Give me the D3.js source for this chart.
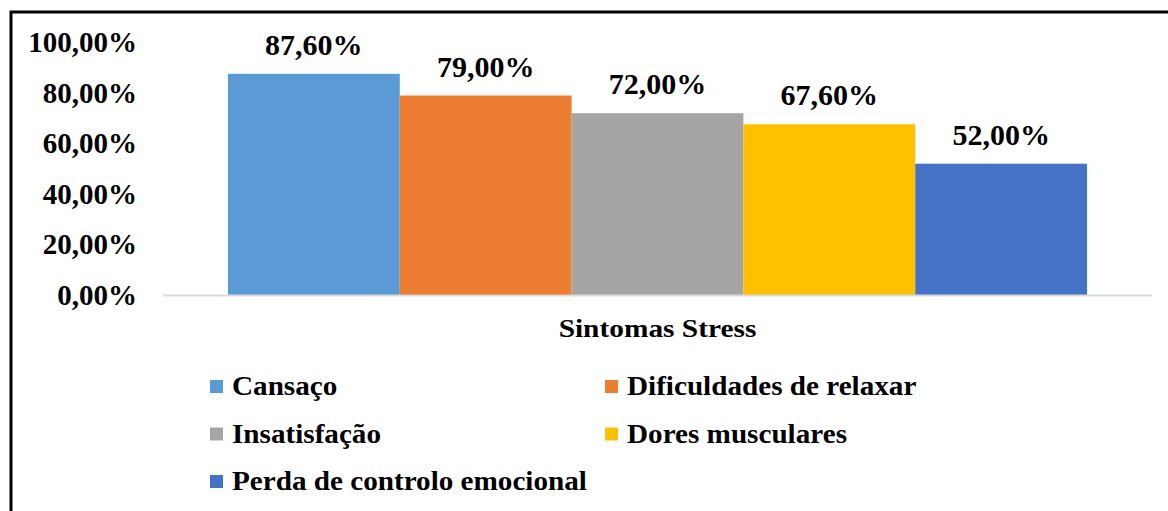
<!DOCTYPE html>
<html>
<head>
<meta charset="utf-8">
<script src="https://cdn.jsdelivr.net/npm/d3@7"></script>
<style>
  body { margin:0; background:#fff; }
</style>
</head>
<body>
<svg id="chart" width="1168" height="511"></svg>
<script>
// data
const categories = ["Cansaço","Dificuldades de relaxar","Insatisfação","Dores musculares","Perda de controlo emocional"]
const values = [87.6, 79.0, 72.0, 67.6, 52.0]
const colors = ["#5B9BD5","#ED7D31","#A5A5A5","#FFC000","#4472C4"]
const yTicks = [0,20,40,60,80,100]
const axisTitle = "Sintomas Stress"

const font = "Liberation Serif"
const fmt = v => d3.format(".2f")(v).replace(".", ",") + "%"

const svg = d3.select("#chart")
    .attr("font-family",font)
    .attr("font-weight","bold")

// frame
svg.append("path")
    .attr("d","M11,511 L11,12 L1168,12")
    .attr("fill","none")
    .attr("stroke","#000")
    .attr("stroke-width",3)

const x = d3.scaleBand()
    .domain(categories)
    .range([163,1152])
    .paddingInner(0)
    .paddingOuter(0.378)

const y = d3.scaleLinear()
    .domain([0,100])
    .range([295,42.5])

// y axis labels
const yAxis = d3.axisLeft(y)
    .tickValues(yTicks)
    .tickSize(0)
    .tickPadding(0)
    .tickFormat(fmt)
const yg = svg.append("g")
    .attr("transform","translate(137,0)")
    .call(yAxis)
yg.attr("font-family",font).attr("font-size",null)
yg.select(".domain").remove()
yg.selectAll("text")
    .attr("font-size","29px")
    .attr("fill","#000")

// bars
svg.selectAll("rect.bar")
    .data(categories)
    .enter()
    .append("rect")
    .attr("class","bar")
    .attr("x",d=>x(d))
    .attr("width",x.bandwidth())
    .attr("y",(d,i)=>y(values[i]))
    .attr("height",(d,i)=>y(0)-y(values[i]))
    .attr("fill",(d,i)=>colors[i])

// baseline
svg.append("line")
    .attr("x1",163).attr("x2",1152)
    .attr("y1",y(0)+0.5).attr("y2",y(0)+0.5)
    .attr("stroke","#d9d9d9")
    .attr("stroke-width",2)

// value labels
svg.selectAll("text.val")
    .data(categories)
    .enter()
    .append("text")
    .attr("class","val")
    .attr("x",d=>x(d)+x.bandwidth()/2)
    .attr("y",(d,i)=>y(values[i])-19)
    .attr("text-anchor","middle")
    .attr("font-size","30px")
    .attr("fill","#000")
    .text((d,i)=>fmt(values[i]))

// axis title (slightly wide lettering, like the source)
svg.append("g")
    .attr("transform",`translate(${(163+1152)/2},337) scale(1.13,1)`)
    .append("text")
    .attr("text-anchor","middle")
    .attr("font-size","26px")
    .text(axisTitle)

// legend
const legend = svg.selectAll("g.leg")
    .data(categories)
    .enter()
    .append("g")
    .attr("class","leg")
    .attr("transform",(d,i)=>`translate(${i%2===0?210:605},${395+Math.floor(i/2)*47.5})`)
legend.append("rect")
    .attr("x",0).attr("y",-15)
    .attr("width",13).attr("height",13)
    .attr("fill",(d,i)=>colors[i])
legend.append("g")
    .attr("transform","translate(22,0) scale(1.08,1)")
    .append("text")
    .attr("font-size","27px")
    .text(d=>d)
</script>
</body>
</html>
